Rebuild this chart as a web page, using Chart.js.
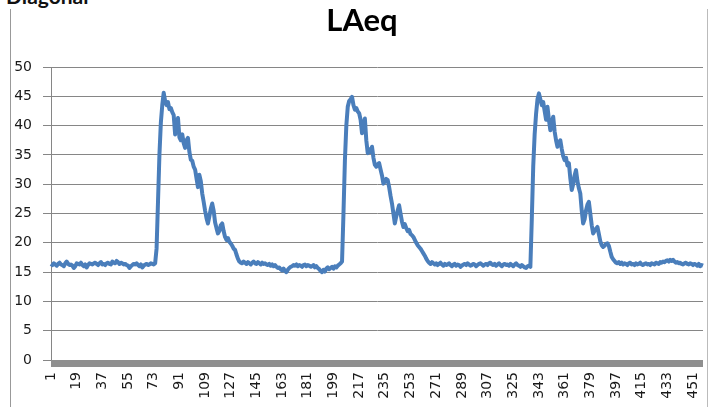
<!DOCTYPE html>
<html>
<head>
<meta charset="utf-8">
<script src="https://cdn.jsdelivr.net/npm/chart.js@4/dist/chart.umd.min.js"></script>
<style>
  html, body { margin: 0; padding: 0; background: #fff; }
  #wrap { position: relative; width: 711px; height: 407px; overflow: hidden; }
  #frame { position: absolute; left: 10px; top: 9px; width: 696px; height: 410px;
           border-left: 1px solid #999; border-right: 1px solid #bbb; }
  #cut { position: absolute; left: 6px; top: -15px; font: bold 21px Lato, sans-serif;
         line-height: 21px; color: #111; }
  #title { position: absolute; left: 262px; width: 200px; top: 1px; text-align: center;
           font: bold 31px Lato, sans-serif; line-height: 37px; color: #000; }
  canvas { position: absolute; left: 0; top: 0; }
</style>
</head>
<body>
<div id="wrap">
  <div id="frame"></div>
  <div id="cut">Diagonal</div>
  <canvas id="chart" width="711" height="407"></canvas>
  <div id="title">LAeq</div>
</div>
<script>
// LAeq samples, rows of 10 (index 1..458)
const laeq = [
  16.4,16.2,16.5,16.3,16.1,16.4,16.6,16.3,16.2,16.0,
  16.5,16.8,16.4,16.2,16.3,16.1,15.7,16.0,16.5,16.4,
  16.3,16.6,16.2,16.0,16.3,15.8,16.2,16.5,16.4,16.3,
  16.5,16.6,16.4,16.2,16.5,16.7,16.3,16.4,16.2,16.5,
  16.6,16.4,16.3,16.8,16.6,16.5,16.9,16.7,16.4,16.6,
  16.5,16.3,16.4,16.2,16.1,15.7,16.0,16.2,16.4,16.3,
  16.5,16.2,16.0,16.3,15.8,16.1,16.3,16.4,16.2,16.3,
  16.5,16.4,16.3,16.5,19.0,27.0,35.0,40.5,43.5,45.6,
  44.2,43.5,44.0,42.8,43.0,42.3,41.8,38.5,40.5,41.3,
  38.0,37.5,38.5,37.0,36.2,37.5,37.9,35.5,34.2,34.0,
  33.0,32.5,31.0,29.5,31.6,30.5,28.4,27.0,25.5,24.2,
  23.3,24.5,25.8,26.7,25.5,23.5,22.5,21.6,22.0,23.0,
  23.3,22.0,21.0,20.5,20.8,20.2,19.9,19.5,19.0,18.8,
  18.0,17.3,16.8,16.6,16.5,16.8,16.6,16.4,16.7,16.5,
  16.3,16.6,16.8,16.5,16.4,16.7,16.5,16.3,16.6,16.4,
  16.5,16.3,16.2,16.4,16.1,16.3,16.0,16.2,15.9,15.7,
  15.8,15.5,15.3,15.6,15.2,15.0,15.4,15.7,15.9,16.0,
  16.2,16.1,16.3,16.0,16.2,16.1,15.9,16.2,16.3,16.0,
  16.2,16.1,15.9,16.0,16.2,15.8,16.0,15.7,15.5,15.2,
  15.0,15.4,15.1,15.6,15.8,15.5,15.7,15.9,15.6,16.0,
  15.8,16.1,16.3,16.5,16.8,25.0,34.0,40.0,43.2,44.2,
  44.5,44.9,43.5,42.7,43.0,42.4,42.1,41.0,38.7,40.0,
  41.2,37.5,35.3,36.0,35.5,36.4,34.5,33.3,33.0,33.4,
  33.6,32.5,31.5,30.1,30.4,30.9,30.7,29.5,28.0,26.7,
  25.0,23.3,24.5,25.5,26.4,25.0,23.6,22.7,23.2,22.5,
  22.0,22.2,21.5,21.3,21.0,20.5,20.0,19.6,19.3,19.0,
  18.6,18.2,17.8,17.3,16.9,16.6,16.4,16.7,16.5,16.3,
  16.5,16.2,16.4,16.6,16.3,16.1,16.4,16.2,16.3,16.5,
  16.2,16.0,16.3,16.4,16.1,16.3,16.2,15.9,16.1,16.3,
  16.4,16.2,16.5,16.3,16.1,16.2,16.4,16.3,16.0,16.2,
  16.4,16.5,16.3,16.1,16.3,16.4,16.2,16.5,16.6,16.3,
  16.2,16.4,16.1,16.3,16.5,16.2,16.0,16.3,16.4,16.2,
  16.3,16.1,16.4,16.2,16.0,16.3,16.5,16.2,16.1,15.9,
  16.2,16.0,15.8,15.7,16.0,16.1,15.9,24.0,33.0,38.5,
  42.0,44.5,45.5,44.5,43.5,44.0,42.5,41.0,43.2,41.0,
  39.2,40.5,41.5,39.0,37.5,36.4,37.0,37.5,36.0,34.8,
  34.1,34.5,33.2,33.6,31.0,29.0,30.0,31.5,32.4,30.5,
  29.3,28.4,25.5,23.3,24.0,25.5,26.5,27.0,25.0,23.0,
  21.6,22.0,22.4,22.7,21.5,20.3,19.6,19.3,19.5,19.8,
  19.9,19.5,18.5,17.6,17.2,16.9,16.6,16.5,16.7,16.4,
  16.6,16.3,16.5,16.4,16.2,16.5,16.6,16.3,16.4,16.2,
  16.5,16.3,16.4,16.6,16.3,16.2,16.4,16.5,16.3,16.4,
  16.2,16.5,16.4,16.3,16.6,16.5,16.4,16.7,16.6,16.8,
  16.7,16.9,17.0,16.8,17.1,16.9,17.1,16.8,16.6,16.7,
  16.5,16.6,16.4,16.3,16.5,16.6,16.4,16.3,16.5,16.4,
  16.2,16.4,16.3,16.1,16.4,16.0,16.2,16.1
];
const categories = laeq.map((v, i) => String(i + 1));
const xTickLabels = ['1','19','37','55','73','91','109','127','145','163','181','199','217','235','253','271','289','307','325','343','361','379','397','415','433','451'];
const yMin = 0, yMax = 50, yStep = 5;

const tickFont = { family: 'DejaVu Sans', size: 14 };
const gridGray = '#868686';

// grey "floor" strip under the plot, like the Excel 3D-ish axis
const floorBar = {
    id: 'floorBar',
    afterDatasetsDraw(chart) {
        const a = chart.chartArea, ctx = chart.ctx;
        ctx.save();
        ctx.fillStyle = '#8f8f8f';
        ctx.fillRect(a.left, a.bottom, a.right - a.left, 7);
        ctx.restore();
    }
};

new Chart(document.getElementById('chart').getContext('2d'), {
    type: 'line',
    data: {
        labels: categories,
        datasets: [{
            label: 'LAeq',
            data: laeq,
            borderColor: '#4a7ebb',
            borderWidth: 4,
            borderJoinStyle: 'round',
            pointRadius: 0,
            tension: 0,
            fill: false
        }]
    },
    options: {
        responsive: false,
        animation: false,
        layout: { padding: { left: 0, right: 8, top: 67, bottom: 0 } },
        plugins: {
            legend: { display: false },
            tooltip: { enabled: false },
            title: { display: false }
        },
        scales: {
            x: {
                offset: false,
                grid: { display: false, drawTicks: false },
                border: { display: false },
                ticks: {
                    autoSkip: false,
                    minRotation: 90,
                    maxRotation: 90,
                    padding: 12,
                    color: '#1a1a1a',
                    font: tickFont,
                    callback: (val, idx) => xTickLabels.includes(categories[idx]) ? categories[idx] : ''
                },
                afterFit: s => { s.height = 47; s.paddingLeft = 0; s.paddingRight = 0; }
            },
            y: {
                min: yMin,
                max: yMax,
                ticks: { stepSize: yStep, padding: 11, color: '#1a1a1a', font: tickFont },
                grid: { color: gridGray, lineWidth: 1, tickLength: 8 },
                border: { color: gridGray, width: 1 },
                afterFit: s => { s.width = 51; }
            }
        }
    },
    plugins: [floorBar]
});
</script>
</body>
</html>
